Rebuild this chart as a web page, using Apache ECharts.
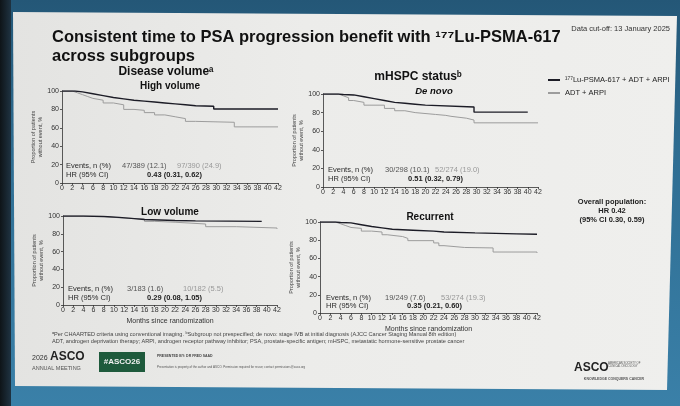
<!DOCTYPE html>
<html>
<head>
<meta charset="utf-8">
<script src="https://cdn.jsdelivr.net/npm/echarts@6/dist/echarts.min.js"></script>
<style>
html, body { margin: 0; padding: 0; }
body {
	width: 680px; height: 406px; overflow: hidden; position: relative;
	background: linear-gradient(180deg, #245777 0%, #2f6e93 40%, #3a80a8 100%);
}
#edge { position: absolute; left: 0; top: 0; width: 11px; height: 406px; background: linear-gradient(90deg, #0e1418, #1f3342); }
#slide {
	position: absolute; left: 0; top: 0; width: 680px; height: 406px;
	background: linear-gradient(90deg, #e3e3e1 0%, #ececea 45%, #efefed 100%);
	clip-path: polygon(13px 12px, 677px 16px, 667px 390px, 15px 386px);
}
#main { position: absolute; left: 0; top: 0; width: 680px; height: 406px; }
</style>
</head>
<body>
<div id="edge"></div>
<div id="slide"></div>
<div id="main"></div>
<script>
var LU = '\u00b9\u2077\u2077Lu-PSMA-617 + ADT + ARPI';
var ADT = 'ADT + ARPI';
var BLACK = '#1c1c26';
var GRAY = '#9c9c9c';

// High volume
var hvLuT = [0, 2.5, 4, 6, 8, 10, 12, 14, 16, 18, 20, 22, 24, 26, 29.5, 42];
var hvLuS = [100, 99, 97, 95, 93, 91.5, 90, 89, 88, 87, 86, 85, 84, 83.5, 80.5, 80];
var hvAdtT = [0, 2, 3, 4, 5, 6, 8, 10, 12, 14, 16, 18, 20, 22, 24, 26, 33.5, 42];
var hvAdtS = [100, 98, 96, 94, 92, 90, 87, 85, 80, 79, 76.5, 74, 72, 70, 67, 66, 61, 60.5];
// De novo
var dnLuT = [0, 3, 4, 6, 8, 10, 12, 14, 16, 18, 20, 29.5, 40];
var dnLuS = [100, 99.5, 99, 97, 95, 93, 91, 90, 89, 88, 86, 80.5, 80];
var dnAdtT = [0, 3, 4, 5, 6, 8, 12, 14, 16, 18, 22, 24, 25, 28, 29.5, 42];
var dnAdtS = [100, 98, 96, 93, 91, 88, 84.5, 82, 80, 78, 77, 76, 74, 72, 69, 68.5];
// Low volume
var lvLuT = [0, 4, 8, 11, 14, 16, 22, 26, 39];
var lvLuS = [100, 99.5, 98.5, 97, 96, 95, 94.5, 94, 93.5];
var lvAdtT = [0, 4, 8, 11, 16, 18, 22, 28, 34, 42];
var lvAdtS = [100, 99.5, 98, 96.5, 94, 93, 91, 88, 86.5, 85.5];
// Recurrent
var reLuT = [0, 3, 4, 6, 8, 10, 12, 14, 18, 22, 24, 30, 34, 38, 42];
var reLuS = [100, 99.5, 99, 97, 95, 93.5, 92, 91, 90, 89, 88, 87.5, 87, 86.5, 86];
var reAdtT = [0, 3, 4, 5, 6, 8, 10, 12, 13, 16, 17, 22, 23, 24, 28, 33.5, 42];
var reAdtS = [100, 98, 96, 94, 93, 90, 89, 86, 84, 82, 79.5, 77, 74, 72, 71.5, 67, 66];

var panels = [
	{ grid: { left: 62, top: 91, width: 216, height: 92 }, lu: [hvLuT, hvLuS], adt: [hvAdtT, hvAdtS], xName: '' },
	{ grid: { left: 323, top: 94, width: 215, height: 93 }, lu: [dnLuT, dnLuS], adt: [dnAdtT, dnAdtS], xName: '' },
	{ grid: { left: 63, top: 216, width: 214, height: 89 }, lu: [lvLuT, lvLuS], adt: [lvAdtT, lvAdtS], xName: 'Months since randomization' },
	{ grid: { left: 320, top: 222, width: 217, height: 91 }, lu: [reLuT, reLuS], adt: [reAdtT, reAdtS], xName: 'Months since randomization' }
];

function zip(t, s) {
	return t.map(function(v, i) { return [v, s[i]]; });
}

function txt(x, y, s, size, opt) {
	opt = opt || {};
	return {
		type: 'text', x: x, y: y, z: 10,
		style: {
			text: s,
			fontSize: size,
			fontFamily: 'Liberation Sans, Arial, sans-serif',
			fontWeight: opt.bold ? 'bold' : 'normal',
			fontStyle: opt.italic ? 'italic' : 'normal',
			fill: opt.color || '#2a2a2a',
			textAlign: opt.align || 'left',
			textVerticalAlign: 'middle'
		}
	};
}

var grids = [], xAxes = [], yAxes = [], series = [];
panels.forEach(function(p, i) {
	grids.push(p.grid);
	xAxes.push({
		type: 'value', gridIndex: i, min: 0, max: 42, interval: 2,
		name: p.xName, nameLocation: 'middle', nameGap: 13,
		nameTextStyle: { fontSize: 7, color: '#333', fontFamily: 'Liberation Sans' },
		axisLine: { lineStyle: { color: '#333', width: 0.8 } },
		axisTick: { length: 2, lineStyle: { color: '#333', width: 0.8 } },
		axisLabel: { fontSize: 7, color: '#333', margin: 2, interval: 0, hideOverlap: false, fontFamily: 'Liberation Sans' },
		splitLine: { show: false }
	});
	yAxes.push({
		type: 'value', gridIndex: i, min: 0, max: 100, interval: 20,
		name: 'Proportion of patients\nwithout event, %', nameLocation: 'middle', nameGap: 17, nameRotate: 90,
		nameTextStyle: { fontSize: 5.5, lineHeight: 6.5, color: '#444', fontFamily: 'Liberation Sans' },
		axisLine: { show: true, lineStyle: { color: '#333', width: 0.8 } },
		axisTick: { show: true, length: 2, lineStyle: { color: '#333', width: 0.8 } },
		axisLabel: { fontSize: 7, color: '#333', margin: 3, fontFamily: 'Liberation Sans' },
		splitLine: { show: false }
	});
	series.push({
		name: ADT, type: 'line', step: 'end', xAxisIndex: i, yAxisIndex: i,
		data: zip(p.adt[0], p.adt[1]), showSymbol: false, silent: true,
		lineStyle: { color: GRAY, width: 1 }, itemStyle: { color: GRAY }
	});
	series.push({
		name: LU, type: 'line', step: 'end', xAxisIndex: i, yAxisIndex: i,
		data: zip(p.lu[0], p.lu[1]), showSymbol: false, silent: true,
		lineStyle: { color: BLACK, width: 1.4 }, itemStyle: { color: BLACK }
	});
});

var graphics = [
	txt(52, 37, 'Consistent time to PSA progression benefit with \u00b9\u2077\u2077Lu-PSMA-617', 16.5, { bold: true, color: '#111' }),
	txt(52, 56, 'across subgroups', 16.5, { bold: true, color: '#111' }),
	txt(670, 29, 'Data cut-off: 13 January 2025', 7.5, { align: 'right', color: '#333' }),
	txt(166, 72, 'Disease volume\u1d43', 12, { bold: true, align: 'center', color: '#111' }),
	txt(170, 86, 'High volume', 10, { bold: true, align: 'center', color: '#111' }),
	txt(418, 77, 'mHSPC status\u1d47', 12, { bold: true, align: 'center', color: '#111' }),
	txt(434, 91, 'De novo', 9.5, { bold: true, italic: true, align: 'center', color: '#111' }),
	txt(170, 212, 'Low volume', 10, { bold: true, align: 'center', color: '#111' }),
	txt(430, 217, 'Recurrent', 10, { bold: true, align: 'center', color: '#111' }),

	txt(66, 166, 'Events, n (%)', 7.5),
	txt(122, 166, '47/389 (12.1)', 7.5, { color: '#555' }),
	txt(177, 166, '97/390 (24.9)', 7.5, { color: '#999' }),
	txt(66, 175, 'HR (95% CI)', 7.5),
	txt(147, 175, '0.43 (0.31, 0.62)', 7.5, { bold: true, color: '#222' }),

	txt(328, 170, 'Events, n (%)', 7.5),
	txt(385, 170, '30/298 (10.1)', 7.5, { color: '#555' }),
	txt(435, 170, '52/274 (19.0)', 7.5, { color: '#999' }),
	txt(328, 179, 'HR (95% CI)', 7.5),
	txt(408, 179, '0.51 (0.32, 0.79)', 7.5, { bold: true, color: '#222' }),

	txt(68, 289, 'Events, n (%)', 7.5),
	txt(127, 289, '3/183 (1.6)', 7.5, { color: '#555' }),
	txt(183, 289, '10/182 (5.5)', 7.5, { color: '#999' }),
	txt(68, 298, 'HR (95% CI)', 7.5),
	txt(147, 298, '0.29 (0.08, 1.05)', 7.5, { bold: true, color: '#222' }),

	txt(326, 298, 'Events, n (%)', 7.5),
	txt(385, 298, '19/249 (7.6)', 7.5, { color: '#555' }),
	txt(441, 298, '53/274 (19.3)', 7.5, { color: '#999' }),
	txt(326, 306, 'HR (95% CI)', 7.5),
	txt(407, 306, '0.35 (0.21, 0.60)', 7.5, { bold: true, color: '#222' }),

	txt(612, 202, 'Overall population:', 7.5, { bold: true, align: 'center', color: '#222' }),
	txt(612, 211, 'HR 0.42', 7.5, { bold: true, align: 'center', color: '#222' }),
	txt(612, 220, '(95% CI 0.30, 0.59)', 7.5, { bold: true, align: 'center', color: '#222' }),

	txt(52, 334, '\u1d43Per CHAARTED criteria using conventional imaging. \u1d47Subgroup not prespecified; de novo: stage IVB at initial diagnosis (AJCC Cancer Staging Manual 8th edition)', 5.6, { color: '#444' }),
	txt(52, 341, 'ADT, androgen deprivation therapy; ARPI, androgen receptor pathway inhibitor; PSA, prostate-specific antigen; mHSPC, metastatic hormone-sensitive prostate cancer', 5.6, { color: '#444' }),

	txt(32, 358, '2026', 7, { color: '#333' }),
	txt(50, 357, 'ASCO', 12, { bold: true, color: '#222' }),
	txt(32, 368, 'ANNUAL MEETING', 5.5, { color: '#555' }),
	{ type: 'rect', shape: { x: 99, y: 352, width: 46, height: 20 }, style: { fill: '#1e5a3c' }, z: 9 },
	txt(122, 362, '#ASCO26', 8, { bold: true, color: '#f2f2f2', align: 'center' }),
	txt(157, 356, 'PRESENTED BY: DR FRED SAAD', 3.5, { bold: true, color: '#444' }),
	txt(157, 367, 'Presentation is property of the author and ASCO. Permission required for reuse; contact permissions@asco.org', 3, { color: '#555' }),
	txt(574, 368, 'ASCO', 12, { bold: true, color: '#222' }),
	txt(608, 365, 'AMERICAN SOCIETY OF\nCLINICAL ONCOLOGY', 2.8, { color: '#555' }),
	txt(614, 379, 'KNOWLEDGE CONQUERS CANCER', 3.5, { bold: true, color: '#555', align: 'center' })
];

var chart = echarts.init(document.getElementById('main'), null, { renderer: 'canvas' });
chart.setOption({
	animation: false,
	backgroundColor: 'transparent',
	legend: {
		orient: 'vertical', left: 543, top: 71, itemWidth: 12, itemHeight: 2, itemGap: 5,
		icon: 'rect', data: [LU, ADT],
		textStyle: { fontSize: 7.5, color: '#222', fontFamily: 'Liberation Sans' }
	},
	grid: grids,
	xAxis: xAxes,
	yAxis: yAxes,
	series: series,
	graphic: graphics
});
</script>
</body>
</html>
